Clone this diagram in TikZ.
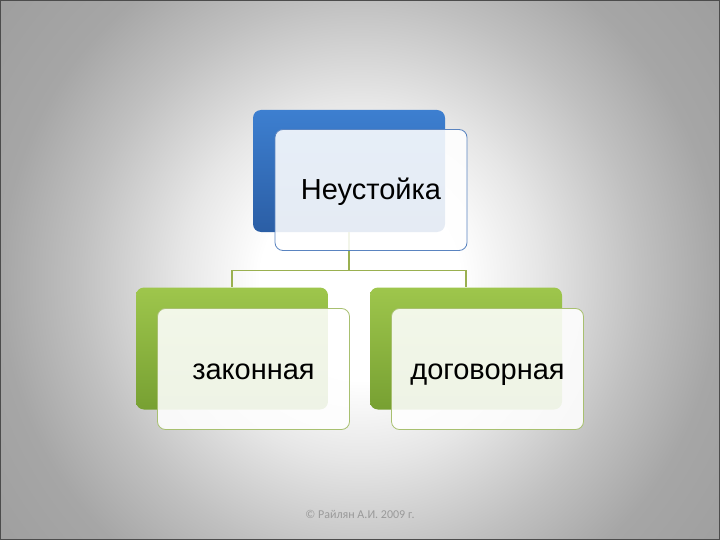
\documentclass[tikz,border=0pt]{standalone}
\usepackage{fontspec}
\setmainfont{Liberation Sans}
\newfontfamily\footfont{Carlito}
\usetikzlibrary{positioning}
\definecolor{bgcorner}{HTML}{9C9C9C}
\definecolor{bgA}{HTML}{E6E6E6}
\definecolor{bgB}{HTML}{C0C0C0}
\definecolor{bgC}{HTML}{A6A6A6}
\definecolor{bgD}{HTML}{9E9E9E}
\definecolor{bluetop}{HTML}{3D7FD0}
\definecolor{bluebot}{HTML}{2B5EA5}
\definecolor{bluebd}{HTML}{5A84C0}
\definecolor{greentop}{HTML}{9EC64C}
\definecolor{greenbot}{HTML}{77A032}
\definecolor{greenbd}{HTML}{A8C070}
\definecolor{conncol}{HTML}{9AB050}
\definecolor{footcol}{HTML}{9A9A9A}
\pgfdeclareradialshading{bgshade}{\pgfpoint{0bp}{0bp}}{%
  color(0bp)=(white); color(5.2bp)=(white);
  color(9.4bp)=(bgA);
  color(14.6bp)=(bgB);
  color(18.75bp)=(bgC);
  color(24bp)=(bgD);
  color(50bp)=(bgcorner)}
\tikzset{
  backbox/.style={rectangle, rounded corners=8pt, minimum width=192pt, minimum height=122pt, inner sep=0pt},
  bluebox/.style={backbox, top color=bluetop, bottom color=bluebot},
  greenbox/.style={backbox, top color=greentop, bottom color=greenbot},
  frontbox/.style={rectangle, rounded corners=8pt, minimum width=192pt, minimum height=121pt, inner sep=0pt, fill=white, fill opacity=0.88, text opacity=1, line width=0.8pt, font=\fontsize{29}{34}\selectfont, text height=20pt, text depth=0pt},
  conn/.style={draw=conncol, line width=1.1pt},
}
\begin{document}
\begin{tikzpicture}[x=1pt,y=-1pt]
\useasboundingbox (0,0) rectangle (720,540);
\fill[bgcorner] (0,0) rectangle (720,540);
\begin{scope}
\clip (0,0) rectangle (720,540);
\shade[shading=bgshade] (360,280) circle[radius=480];
\end{scope}
\draw[black!70, line width=1.2pt] (0.6,0.6) rectangle (719.4,539.4);
\node[bluebox] (blue) at (349,171) {};
\node[greenbox] (gl) at (232,348.5) {};
\node[greenbox] (gr) at (466,348.5) {};
\draw[conn] (blue.south) -- ++(0,38) coordinate (j) -| (gl.north);
\draw[conn] (j) -| (gr.north);
\node[frontbox, draw=bluebd] (top) at (371,190) {Неустойка};
\node[frontbox, draw=greenbd, text depth=-4pt] (left) at (253.5,369) {законная};
\node[frontbox, draw=greenbd, text depth=-4pt] (right) at (487.5,369) {договорная};
\node[text=footcol, font=\footfont\fontsize{12}{14}\selectfont] (foot) at (360,514) {© Райлян А.И. 2009 г.};
\end{tikzpicture}
\end{document}
